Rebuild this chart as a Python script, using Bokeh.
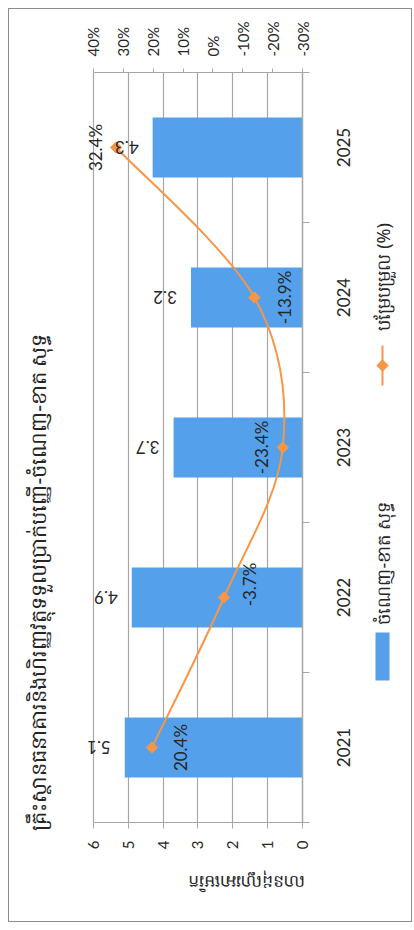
import math
from bokeh.plotting import figure
from bokeh.layouts import row
from bokeh.models import (Range1d, LinearAxis, FixedTicker, PrintfTickFormatter,
                          ColumnDataSource)
from bokeh.core.properties import value
from bokeh.embed import file_html
from bokeh.resources import INLINE

# ---------------- data ----------------
years = ["2021", "2022", "2023", "2024", "2025"]
net_profit = [5.1, 4.9, 3.7, 3.2, 4.3]          # million USD (bars)
change_pct = [20.4, -3.7, -23.4, -13.9, 32.4]   # % change (line)
value_ticks = [0, 1, 2, 3, 4, 5, 6]
pct_ticks = [40, 30, 20, 10, 0, -10, -20, -30]

title_text = "គ្រឹះស្ថានធនាគារនិងហិរញ្ញវត្ថុទទួលប្រាក់បញ្ញើ-ចំណេញ-ខាត សុទ្ធ"
yaxis_title = "លានដុល្លារអាមេរិក"
legend_bar = "ចំណេញ-ខាត សុទ្ធ"
legend_line = "បម្រែបម្រួល (%)"

# ---------------- styles ----------------
BAR = "#55A0EA"
LINE = "#F79646"
GRID = "#A6A6A6"
TXT = "#262626"
FONT = "Lato"
KFONT = "Noto Sans"
CAT_FONT_PX = 17

pct_dx = [29, 26, -21, 30, -21]   # label offsets (px)
pct_dy = [0, -13, 0, 0, 0]

n = len(years)
pos = [i + 0.5 for i in range(n)]
bounds = list(range(n + 1))

# axis extents; frame is padded on the left so outside labels are not clipped
V_MIN, V_MAX = value_ticks[0], value_ticks[-1]
P_MIN, P_MAX = pct_ticks[-1], pct_ticks[0]
PAD = 0.6
pct_per_unit = (P_MAX - P_MIN) / (V_MAX - V_MIN)

H = 912
FRAME_H = H - 63 - 99
# rotated category labels start at their tick: shift so they centre on the category
label_len_px = [len(y) * 0.58 * CAT_FONT_PX for y in years]
label_pos = [pos[i] - (label_len_px[i] / 2.0) / (FRAME_H / n) for i in range(n)]

common = dict(height=H, output_backend="svg", toolbar_location=None, frame_align=False)

# ---------------- left strip: title ----------------
left = figure(width=51, x_range=Range1d(0, 51), y_range=Range1d(H, 0),
              x_axis_type=None, y_axis_type=None, min_border=0,
              min_border_left=0, min_border_right=0, min_border_top=0, min_border_bottom=0,
              **common)
left.outline_line_color = None
left.grid.visible = False
left.text(x=[28], y=[821], text=[title_text], angle=math.pi / 2,
          text_align="left", text_baseline="middle",
          text_font=value(KFONT), text_font_size="21px", text_color=TXT)

# ---------------- main chart ----------------
p = figure(width=300, x_range=Range1d(V_MAX + PAD, V_MIN), y_range=Range1d(0, n),
           x_axis_location="below", y_axis_location="right",
           min_border_left=12, min_border_right=58,
           min_border_top=63, min_border_bottom=99, **common)
p.extra_x_ranges = {"pct": Range1d(P_MAX + PAD * pct_per_unit, P_MIN)}
p.outline_line_color = None

bx = p.below[0]
bx.ticker = FixedTicker(ticks=value_ticks)
bx.bounds = (V_MIN, V_MAX)
bx.major_label_orientation = math.pi / 2
bx.major_label_text_font = FONT
bx.major_label_text_font_size = "15px"
bx.major_label_text_color = TXT
bx.major_tick_out = 6
bx.major_tick_in = 0
bx.minor_tick_line_color = None
bx.axis_line_color = GRID
bx.major_tick_line_color = GRID
bx.major_label_standoff = 12
bx.axis_label = yaxis_title
bx.axis_label_orientation = math.pi
bx.axis_label_text_font = KFONT
bx.axis_label_text_font_style = "normal"
bx.axis_label_text_font_size = "17px"
bx.axis_label_text_color = TXT
bx.axis_label_standoff = 30

ry = p.right[0]
ry.ticker = FixedTicker(ticks=label_pos, minor_ticks=bounds)
ry.major_label_overrides = {label_pos[i]: years[i] for i in range(n)}
ry.major_label_orientation = math.pi / 2
ry.major_label_text_font = FONT
ry.major_label_text_font_size = f"{CAT_FONT_PX}px"
ry.major_label_text_color = TXT
ry.major_tick_out = 0
ry.major_tick_in = 0
ry.major_tick_line_color = None
ry.minor_tick_out = 7
ry.minor_tick_in = 0
ry.minor_tick_line_color = GRID
ry.axis_line_color = GRID
ry.axis_line_width = 1.5
ry.major_label_standoff = 34

tx = LinearAxis(x_range_name="pct", ticker=FixedTicker(ticks=pct_ticks),
                formatter=PrintfTickFormatter(format="%d%%"))
tx.bounds = (P_MIN, P_MAX)
tx.major_label_orientation = math.pi / 2
tx.major_label_text_font = FONT
tx.major_label_text_font_size = "15px"
tx.major_label_text_color = TXT
tx.major_tick_out = 4
tx.major_tick_in = 0
tx.minor_tick_line_color = None
tx.axis_line_color = GRID
tx.major_tick_line_color = GRID
tx.major_label_standoff = 12
p.add_layout(tx, "above")

p.xgrid.ticker = FixedTicker(ticks=value_ticks)
p.xgrid.grid_line_color = GRID
p.xgrid.grid_line_width = 1.2
p.ygrid.grid_line_color = None

p.hbar(y=pos, left=0, right=net_profit, height=0.4, fill_color=BAR, line_color=None)

# smoothed line: Bezier segments built from the data points
b = dict(x0=[], y0=[], x1=[], y1=[], cx0=[], cy0=[], cx1=[], cy1=[])
for i in range(n - 1):
    a = max(i - 1, 0)
    d = min(i + 2, n - 1)
    b["x0"].append(change_pct[i]); b["y0"].append(pos[i])
    b["x1"].append(change_pct[i + 1]); b["y1"].append(pos[i + 1])
    b["cx0"].append(change_pct[i] + (change_pct[i + 1] - change_pct[a]) / 6.0)
    b["cy0"].append(pos[i] + (pos[i + 1] - pos[a]) / 6.0)
    b["cx1"].append(change_pct[i + 1] - (change_pct[d] - change_pct[i]) / 6.0)
    b["cy1"].append(pos[i + 1] - (pos[d] - pos[i]) / 6.0)
p.bezier(source=ColumnDataSource(b), x0="x0", y0="y0", x1="x1", y1="y1",
         cx0="cx0", cy0="cy0", cx1="cx1", cy1="cy1",
         line_color=LINE, line_width=2, x_range_name="pct")
p.scatter(change_pct, pos, marker="square", angle=math.pi / 4, size=8,
          fill_color=LINE, line_color=LINE, x_range_name="pct")

p.text(x=net_profit, y=pos, text=[f"{v:.1f}" for v in net_profit],
       angle=math.pi, text_align="left", text_baseline="middle", x_offset=-14,
       text_font=value(FONT), text_font_size="17px", text_color=TXT)

psrc = ColumnDataSource(dict(x=change_pct, y=pos, t=[f"{v:.1f}%" for v in change_pct],
                             dx=pct_dx, dy=pct_dy))
p.text(x="x", y="y", text="t", source=psrc, x_range_name="pct",
       angle=math.pi / 2, text_align="center", text_baseline="middle",
       x_offset="dx", y_offset="dy",
       text_font=value(FONT), text_font_size="17px", text_color=TXT)

# ---------------- right strip: legend ----------------
right = figure(width=51, x_range=Range1d(0, 51), y_range=Range1d(H, 0),
               x_axis_type=None, y_axis_type=None, min_border=0,
               min_border_left=0, min_border_right=0, min_border_top=0, min_border_bottom=0,
               **common)
right.outline_line_color = None
right.grid.visible = False
lx = 22
right.rect(x=[lx], y=[647], width=14, height=48, fill_color=BAR, line_color=None)
right.text(x=[lx], y=[615], text=[legend_bar], angle=math.pi / 2,
           text_align="left", text_baseline="middle",
           text_font=value(KFONT), text_font_size="18px", text_color=TXT)
right.segment(x0=[lx], y0=[336], x1=[lx], y1=[376], line_color=LINE, line_width=2)
right.scatter(x=[lx], y=[356], marker="square", angle=math.pi / 4, size=8,
              fill_color=LINE, line_color=LINE)
right.text(x=[lx], y=[321], text=[legend_line], angle=math.pi / 2,
           text_align="left", text_baseline="middle",
           text_font=value(KFONT), text_font_size="18px", text_color=TXT)

layout = row(left, p, right, spacing=0,
             styles={"border": "1px solid #8C8C8C", "margin": "8px 0 0 8px"})

open("out.html", "w").write(file_html(layout, INLINE))
